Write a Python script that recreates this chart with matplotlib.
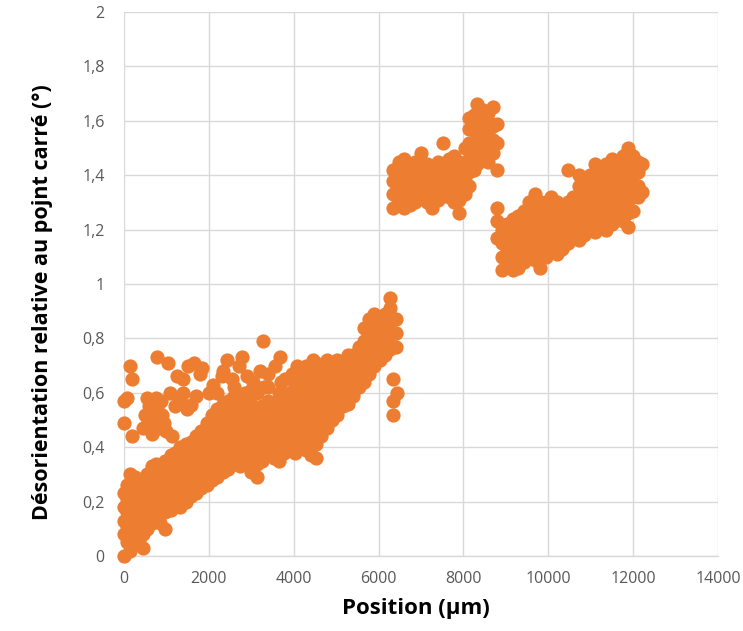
import matplotlib
matplotlib.use("Agg")
import matplotlib.pyplot as plt
from matplotlib.ticker import FuncFormatter

# ---------------- data ----------------
# Segment A: rising band, each entry = (position, [misorientations at that position])
seg_a_cols = [
    (0, [0.0, 0.08, 0.13, 0.18, 0.23]),
    (60, [0.05, 0.11, 0.16, 0.21, 0.26]),
    (150, [0.02, 0.09, 0.14, 0.20, 0.25, 0.30]),
    (250, [0.04, 0.10, 0.15, 0.19, 0.24, 0.29]),
    (350, [0.06, 0.12, 0.17, 0.22, 0.27]),
    (450, [0.03, 0.08, 0.13, 0.18, 0.23, 0.28]),
    (550, [0.10, 0.15, 0.20, 0.25, 0.30]),
    (650, [0.12, 0.17, 0.22, 0.27, 0.33]),
    (750, [0.14, 0.19, 0.24, 0.29, 0.34]),
    (850, [0.12, 0.17, 0.21, 0.26, 0.31]),
    (970, [0.10, 0.16, 0.20, 0.25, 0.30, 0.35]),
    (1100, [0.17, 0.22, 0.27, 0.32, 0.37]),
    (1200, [0.19, 0.24, 0.29, 0.34, 0.38]),
    (1320, [0.18, 0.23, 0.28, 0.33, 0.37, 0.40]),
    (1450, [0.20, 0.25, 0.30, 0.35, 0.41]),
    (1580, [0.22, 0.27, 0.32, 0.37, 0.42]),
    (1700, [0.23, 0.28, 0.33, 0.38, 0.44]),
    (1820, [0.25, 0.30, 0.35, 0.40, 0.46]),
    (1950, [0.26, 0.31, 0.36, 0.41, 0.45, 0.49]),
    (2080, [0.28, 0.33, 0.38, 0.43, 0.48, 0.52]),
    (2200, [0.29, 0.34, 0.39, 0.44, 0.49, 0.54]),
    (2330, [0.31, 0.36, 0.41, 0.46, 0.51, 0.56]),
    (2460, [0.32, 0.37, 0.42, 0.47, 0.52, 0.57]),
    (2600, [0.34, 0.39, 0.44, 0.49, 0.54, 0.59]),
    (2730, [0.33, 0.38, 0.43, 0.48, 0.53, 0.58]),
    (2860, [0.35, 0.40, 0.45, 0.50, 0.55, 0.60]),
    (3000, [0.31, 0.36, 0.41, 0.46, 0.51, 0.56, 0.61]),
    (3130, [0.29, 0.34, 0.39, 0.44, 0.49, 0.54, 0.60]),
    (3260, [0.35, 0.40, 0.45, 0.50, 0.55]),
    (3400, [0.37, 0.42, 0.47, 0.52, 0.57, 0.62]),
    (3530, [0.36, 0.41, 0.46, 0.51, 0.56]),
    (3650, [0.35, 0.40, 0.45, 0.50, 0.55, 0.60]),
    (3780, [0.38, 0.43, 0.48, 0.53, 0.58]),
    (3900, [0.39, 0.44, 0.49, 0.54, 0.60]),
    (4030, [0.38, 0.43, 0.48, 0.53, 0.58, 0.62]),
    (4150, [0.40, 0.45, 0.50, 0.55, 0.60]),
    (4280, [0.39, 0.44, 0.49, 0.54, 0.59, 0.64]),
    (4400, [0.37, 0.42, 0.47, 0.52, 0.57, 0.62, 0.67]),
    (4530, [0.36, 0.41, 0.46, 0.51, 0.56, 0.61, 0.66, 0.71]),
    (4650, [0.44, 0.49, 0.54, 0.59, 0.64, 0.69]),
    (4780, [0.47, 0.52, 0.57, 0.62, 0.67, 0.72]),
    (4900, [0.50, 0.55, 0.60, 0.65, 0.70]),
    (5030, [0.52, 0.57, 0.62, 0.67, 0.72]),
    (5160, [0.55, 0.60, 0.65, 0.70]),
    (5280, [0.56, 0.61, 0.66, 0.71, 0.74]),
    (5400, [0.59, 0.64, 0.69, 0.74]),
    (5530, [0.62, 0.67, 0.72, 0.77]),
    (5650, [0.64, 0.69, 0.74, 0.79, 0.84]),
    (5770, [0.67, 0.72, 0.77, 0.82, 0.87]),
    (5900, [0.70, 0.75, 0.80, 0.85, 0.89]),
    (6030, [0.72, 0.77, 0.82, 0.87]),
    (6150, [0.74, 0.79, 0.84, 0.89]),
    (6280, [0.76, 0.81, 0.86, 0.91, 0.95]),
    (6400, [0.77, 0.82, 0.87]),
]

# Segment A: scattered points above the band and isolated points
seg_a_x = [0, 60, 0, 140, 180, 180, 770, 1040, 1240, 1510, 1790,
           535, 770, 610, 450, 850, 1120, 1085, 1320, 1480, 1590, 700, 600, 900,
           500, 560, 650, 700, 750, 820, 880, 950, 1000, 650, 1200, 1400, 1650,
           1850, 1380, 1700,
           2000, 2100, 2300, 2420, 2550, 2700, 2770, 2900, 3050, 3200, 3280,
           3400, 3550, 3680, 3800, 3950, 4070, 4200, 4300, 4460, 2200, 2600,
           3300, 3700, 4100, 2340, 6340, 6430, 6340, 6340]
seg_a_y = [0.57, 0.58, 0.49, 0.70, 0.65, 0.44, 0.73, 0.71, 0.66, 0.70, 0.67,
           0.58, 0.54, 0.51, 0.47, 0.47, 0.44, 0.60, 0.58, 0.54, 0.555, 0.50, 0.55, 0.52,
           0.52, 0.49, 0.56, 0.47, 0.58, 0.50, 0.57, 0.49, 0.46, 0.45, 0.55, 0.60, 0.71,
           0.69, 0.65, 0.59,
           0.60, 0.63, 0.66, 0.72, 0.65, 0.70, 0.73, 0.66, 0.64, 0.68, 0.79,
           0.67, 0.70, 0.73, 0.65, 0.67, 0.70, 0.66, 0.70, 0.72, 0.60, 0.62,
           0.62, 0.64, 0.63, 0.68, 0.65, 0.60, 0.57, 0.52]

# Segment B: first plateau and its rising end
seg_b_cols = [
    (6350, [1.28, 1.33, 1.38, 1.42]),
    (6480, [1.30, 1.35, 1.40, 1.45]),
    (6610, [1.28, 1.33, 1.38, 1.43, 1.46]),
    (6740, [1.29, 1.34, 1.39, 1.44]),
    (6870, [1.30, 1.35, 1.40, 1.45]),
    (7000, [1.32, 1.37, 1.42, 1.48]),
    (7130, [1.30, 1.35, 1.40, 1.44]),
    (7260, [1.28, 1.33, 1.38, 1.43]),
    (7390, [1.31, 1.36, 1.41, 1.45]),
    (7520, [1.33, 1.38, 1.43, 1.52]),
    (7650, [1.32, 1.37, 1.42, 1.46]),
    (7780, [1.30, 1.35, 1.40, 1.47]),
    (7900, [1.26, 1.31, 1.36, 1.41, 1.45]),
    (8030, [1.33, 1.38, 1.43, 1.50]),
    (8130, [1.36, 1.41, 1.46, 1.52, 1.57, 1.61]),
    (8250, [1.42, 1.47, 1.52, 1.57, 1.62]),
    (8330, [1.44, 1.50, 1.55, 1.60, 1.66]),
    (8450, [1.46, 1.51, 1.56, 1.61, 1.64]),
    (8580, [1.45, 1.50, 1.55, 1.60, 1.63]),
    (8700, [1.48, 1.53, 1.58, 1.65]),
    (8800, [1.42, 1.52, 1.59]),
]

# Segment C: second plateau
seg_c_cols = [
    (8800, [1.17, 1.23, 1.28]),
    (8900, [1.05, 1.10, 1.15, 1.20]),
    (9030, [1.07, 1.12, 1.17, 1.22]),
    (9160, [1.05, 1.10, 1.15, 1.20, 1.24]),
    (9290, [1.06, 1.11, 1.16, 1.21, 1.25]),
    (9420, [1.08, 1.13, 1.18, 1.23, 1.27]),
    (9550, [1.10, 1.15, 1.20, 1.25, 1.30]),
    (9680, [1.09, 1.14, 1.19, 1.24, 1.29, 1.33]),
    (9810, [1.06, 1.11, 1.16, 1.21, 1.26, 1.30]),
    (9940, [1.10, 1.15, 1.20, 1.25, 1.30]),
    (10070, [1.12, 1.17, 1.22, 1.27, 1.32]),
    (10200, [1.11, 1.16, 1.21, 1.26, 1.30]),
    (10330, [1.13, 1.18, 1.23, 1.28]),
    (10460, [1.15, 1.20, 1.25, 1.30, 1.42]),
    (10590, [1.17, 1.22, 1.27, 1.32]),
    (10720, [1.16, 1.21, 1.26, 1.31, 1.36, 1.40]),
    (10850, [1.18, 1.23, 1.28, 1.33, 1.38]),
    (10980, [1.20, 1.25, 1.30, 1.35, 1.40]),
    (11110, [1.19, 1.24, 1.29, 1.34, 1.39, 1.44]),
    (11240, [1.21, 1.26, 1.31, 1.36, 1.41]),
    (11370, [1.20, 1.25, 1.30, 1.35, 1.40, 1.44]),
    (11500, [1.22, 1.27, 1.32, 1.37, 1.42, 1.46]),
    (11630, [1.24, 1.29, 1.34, 1.39, 1.44]),
    (11760, [1.23, 1.28, 1.33, 1.38, 1.43, 1.47]),
    (11880, [1.21, 1.26, 1.31, 1.36, 1.41, 1.46, 1.50]),
    (12000, [1.27, 1.32, 1.37, 1.42, 1.47]),
    (12120, [1.32, 1.36, 1.41, 1.45]),
    (12200, [1.34, 1.44]),
]

x_ticks = [0, 2000, 4000, 6000, 8000, 10000, 12000, 14000]
y_ticks = [0, 0.2, 0.4, 0.6, 0.8, 1.0, 1.2, 1.4, 1.6, 1.8, 2.0]
x_label = "Position (µm)"
y_label = "Désorientation relative au pojnt carré (°)"


def flatten(cols):
    xs, ys = [], []
    for xv, yl in cols:
        for yv in yl:
            xs.append(xv)
            ys.append(yv)
    return xs, ys


xa, ya = flatten(seg_a_cols)
xb, yb = flatten(seg_b_cols)
xc, yc = flatten(seg_c_cols)
all_x = xa + seg_a_x + xb + xc
all_y = ya + seg_a_y + yb + yc

# ---------------- figure ----------------
plt.rcParams['font.family'] = ['Open Sans', 'DejaVu Sans']
W, H = 743, 631
fig = plt.figure(figsize=(W / 100, H / 100), dpi=100)
ax = fig.add_axes([124 / W, 1 - 556 / H, (718 - 124) / W, (556 - 12) / H])

ax.scatter(all_x, all_y, s=105, color='#ED7D31', linewidths=0, zorder=3,
           clip_on=False)

ax.set_xlim(0, 14000)
ax.set_ylim(0, 2)
ax.set_xticks(x_ticks)
ax.set_yticks(y_ticks)


def comma_fmt(v, pos):
    s = ('%.1f' % v).rstrip('0').rstrip('.')
    return s.replace('.', ',')


ax.yaxis.set_major_formatter(FuncFormatter(comma_fmt))
ax.xaxis.set_major_formatter(FuncFormatter(lambda v, p: '%d' % v))

ax.grid(True, color='#D9D9D9', linewidth=1.0, zorder=0)
ax.set_axisbelow(True)
for side in ['top', 'right', 'left']:
    ax.spines[side].set_visible(False)
ax.spines['bottom'].set_color('#D9D9D9')
ax.spines['bottom'].set_linewidth(1.0)
ax.tick_params(axis='both', length=0, labelsize=11.5, labelcolor='#595959')
ax.tick_params(axis='x', pad=11)
ax.tick_params(axis='y', pad=14)

ax.set_xlabel(x_label, fontsize=16, fontweight='bold', color='black')
ax.set_ylabel(y_label, fontsize=15.5, fontweight='bold', color='black')
ax.xaxis.set_label_coords(0.492, -0.096)
ax.yaxis.set_label_coords(-0.138, 0.467)
ax.xaxis.label.set_va('center')
ax.yaxis.label.set_va('center')

fig.savefig('out.png', dpi=100)
